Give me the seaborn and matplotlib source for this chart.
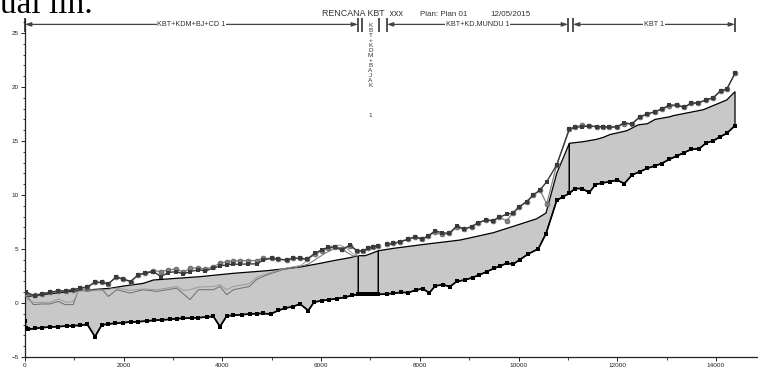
import numpy as np
import pandas as pd
import seaborn as sns
import matplotlib.pyplot as plt
from matplotlib.ticker import MultipleLocator

# ---- data (station m, elevation m) ----
# reach 1 : KBT+KDM+BJ+CD
bed1_x = [0, 15, 68, 203, 338, 507, 675, 844, 979, 1114, 1263, 1418, 1554, 1689, 1824, 1993, 2141, 2297,
          2466, 2614, 2769, 2938, 3073, 3208, 3377, 3512, 3681, 3816, 3951, 4087, 4222, 4390, 4559, 4694,
          4829, 4978, 5133, 5268, 5424, 5573, 5741, 5856, 6011, 6167, 6316, 6484, 6620, 6754]
bed1_y = [-1.7, -2.3, -2.44, -2.35, -2.29, -2.22, -2.19, -2.13, -2.1, -2.07, -1.98, -3.12, -2.04, -1.94,
          -1.88, -1.82, -1.76, -1.73, -1.67, -1.6, -1.57, -1.51, -1.45, -1.42, -1.39, -1.36, -1.3, -1.23,
          -2.19, -1.2, -1.14, -1.08, -1.02, -0.98, -0.97, -1.02, -0.69, -0.48, -0.34, -0.09, -0.7, 0.08,
          0.21, 0.31, 0.4, 0.53, 0.7, 0.8]
ws1_x = [0, 1047, 1722, 1992, 2398, 2600, 2870, 3546, 4221, 4897, 5572, 5978, 6248, 6586, 6754]
ws1_y = [0.59, 1.14, 1.36, 1.57, 1.82, 2.13, 2.22, 2.44, 2.75, 2.99, 3.33, 3.67, 3.92, 4.2, 4.38]

# reach 2 : KBT+KDM+BAJAK
bed2_x = [6754, 6822, 6890, 6957, 7025, 7092, 7160]
bed2_y = [0.8, 0.8, 0.8, 0.8, 0.8, 0.8, 0.8]
ws2_x = [6754, 6890, 6991, 7160]
ws2_y = [4.38, 4.38, 4.54, 4.84]

# reach 3 : KBT+KD.MUNDU
bed3_x = [7160, 7329, 7464, 7613, 7767, 7923, 8059, 8193, 8308, 8464, 8612, 8748, 8916, 9071, 9206,
          9355, 9503, 9625, 9761, 9896, 10030, 10199, 10402, 10557, 10774, 10908, 11030]
bed3_y = [0.8, 0.83, 0.9, 0.98, 0.96, 1.2, 1.33, 0.93, 1.57, 1.7, 1.51, 2.0, 2.13, 2.36, 2.6, 2.9, 3.2,
          3.42, 3.67, 3.61, 4.02, 4.54, 5.02, 6.42, 9.5, 9.85, 10.15]
ws3_x = [7160, 7464, 8140, 8815, 9490, 10030, 10368, 10557, 10774, 11030]
ws3_y = [4.84, 5.06, 5.46, 5.83, 6.51, 7.3, 7.8, 8.33, 12.0, 14.79]

# reach 4 : KBT
bed4_x = [11030, 11145, 11280, 11435, 11560, 11700, 11845, 12000, 12144, 12300, 12455, 12605, 12760,
          12900, 13053, 13205, 13354, 13500, 13660, 13805, 13948, 14090, 14219, 14387]
bed4_y = [10.15, 10.6, 10.6, 10.24, 10.97, 11.12, 11.23, 11.39, 11.05, 11.85, 12.16, 12.46, 12.7,
          12.91, 13.3, 13.61, 13.92, 14.23, 14.29, 14.82, 15.03, 15.4, 15.71, 16.42]
ws4_x = [11030, 11313, 11584, 11719, 11854, 12192, 12428, 12611, 12766, 13070, 13137, 13745, 14219, 14387]
ws4_y = [14.79, 14.94, 15.16, 15.34, 15.6, 15.95, 16.5, 16.6, 17.0, 17.25, 17.35, 17.9, 18.8, 19.57]

# bank lines (left / right), upstream part and downstream part
bank1_x = [0, 20, 203, 338, 507, 675, 824, 979, 1114, 1263, 1418, 1554, 1689, 1844, 1992, 2141, 2297,
           2432, 2600, 2756, 2904, 3060, 3208, 3343, 3512, 3647, 3816, 3951, 4087, 4222, 4357, 4525,
           4694, 4829, 4998, 5133, 5302, 5437, 5573, 5708, 5876, 6011, 6147, 6282, 6417, 6586, 6721,
           6856, 6957, 7059, 7160]
lob1_y = [0.9, 1.0, 0.67, 0.86, 0.98, 1.13, 1.13, 1.23, 1.38, 1.47, 1.93, 1.9, 1.78, 2.39, 2.21, 1.99,
          2.61, 2.76, 2.91, 2.45, 2.82, 2.91, 2.7, 2.91, 3.07, 2.98, 3.22, 3.44, 3.53, 3.59, 3.59, 3.62,
          3.62, 3.99, 4.14, 4.05, 3.99, 4.14, 4.14, 4.05, 4.6, 4.91, 5.15, 5.15, 4.91, 5.37, 4.85, 4.8,
          5.1, 5.22, 5.3]
rob1_y = [0.95, 0.85, 0.7, 0.86, 0.98, 1.13, 1.13, 1.23, 1.38, 1.47, 1.93, 1.9, 1.78, 2.39, 2.21, 1.99,
          2.61, 2.8, 3.0, 2.91, 3.07, 3.16, 2.85, 3.22, 3.25, 3.13, 3.37, 3.68, 3.83, 3.9, 3.93, 3.93,
          3.93, 4.14, 4.14, 4.05, 3.99, 4.14, 4.14, 4.05, 4.5, 4.85, 5.1, 5.2, 5.0, 5.3, 4.85, 4.8,
          5.1, 5.22, 5.3]
bank2_x = [7329, 7464, 7599, 7768, 7903, 8038, 8173, 8308, 8443, 8598, 8748, 8896, 9051, 9186, 9341,
           9476, 9611, 9761, 9882, 10017, 10165, 10300, 10436, 10571, 10774, 11030, 11145, 11280, 11435,
           11584, 11706, 11840, 12002, 12144, 12293, 12462, 12611, 12766, 12901, 13056, 13205, 13354,
           13495, 13644, 13799, 13948, 14097, 14219, 14387]
lob2_y = [5.43, 5.52, 5.68, 5.9, 6.14, 5.9, 6.2, 6.7, 6.51, 6.45, 7.13, 6.85, 7.07, 7.44, 7.69, 7.62,
          7.93, 8.24, 8.3, 8.92, 9.38, 10.0, 10.46, 11.23, 12.78, 16.11, 16.26, 16.33, 16.39, 16.33,
          16.33, 16.26, 16.33, 16.7, 16.57, 17.25, 17.5, 17.72, 17.96, 18.33, 18.33, 18.12, 18.49,
          18.55, 18.8, 19.01, 19.66, 19.79, 21.27]
rob2_y = [5.43, 5.52, 5.68, 5.9, 6.14, 5.95, 6.2, 6.55, 6.35, 6.45, 7.0, 6.85, 7.07, 7.44, 7.69, 7.62,
          7.93, 7.62, 8.3, 8.92, 9.38, 10.0, 10.46, 9.17, 12.78, 16.11, 16.3, 16.45, 16.39, 16.33,
          16.33, 16.26, 16.33, 16.6, 16.57, 17.25, 17.5, 17.72, 17.96, 18.2, 18.33, 18.12, 18.49,
          18.5, 18.8, 19.01, 19.66, 19.79, 21.27]

# thin grey lines inside reach 1
thin_a_x = [0, 169, 338, 507, 675, 811, 979, 1081, 1263, 1554, 1689, 1858, 2128, 2398, 2668, 3073,
            3343, 3512, 3816, 3951, 4087, 4222, 4545, 4700, 4900, 5100, 5234, 5500, 5741, 5910, 6079,
            6248, 6383, 6518, 6653, 6754]
thin_a_y = [0.92, -0.15, -0.09, -0.09, 0.15, -0.15, -0.15, 1.23, 1.07, 1.29, 0.61, 1.23, 0.92, 1.23,
            1.07, 1.38, 0.31, 1.23, 1.23, 1.53, 0.77, 1.23, 1.53, 2.2, 2.6, 2.9, 3.1, 3.3, 3.6, 4.1,
            4.6, 5.0, 5.15, 4.7, 4.35, 4.38]
thin_b_x = [0, 169, 507, 675, 844, 979, 1081, 1263, 1554, 1858, 2128, 2398, 2668, 3073, 3208, 3343,
            3512, 3816, 3951, 4087, 4222, 4545, 4700, 4900, 5100, 5300, 5600, 5842, 6012, 6214, 6383,
            6518, 6653, 6754]
thin_b_y = [0.46, 0.06, 0.06, 0.37, 0.06, 0.15, 1.07, 1.23, 1.17, 1.38, 1.17, 1.29, 1.23, 1.53, 1.17,
            1.23, 1.47, 1.53, 1.69, 1.23, 1.53, 1.78, 2.4, 2.7, 3.0, 3.25, 3.5, 4.44, 4.97, 5.28, 5.37,
            5.06, 4.54, 4.4]

# reach name bar on top
span_names = ["KBT+KDM+BJ+CD 1", "KBT+KDM+BAJAK 1", "KBT+KD.MUNDU 1", "KBT 1"]
span_start = [0, 6829, 7335, 11104]
span_end = [6748, 7173, 11003, 14387]


sns.set_style("ticks")
plt.rcParams['font.family'] = ['Liberation Sans', 'DejaVu Sans']

fig = plt.figure(figsize=(7.58, 3.67), dpi=100)
ax = fig.add_axes([25 / 758, 10 / 367, 733 / 758, 338 / 367])

# wetted area of each reach
reaches = [(bed1_x, bed1_y, ws1_x, ws1_y), (bed2_x, bed2_y, ws2_x, ws2_y),
           (bed3_x, bed3_y, ws3_x, ws3_y), (bed4_x, bed4_y, ws4_x, ws4_y)]
for bx, by, wx, wy in reaches:
    ax.fill(np.r_[wx, bx[::-1]], np.r_[wy, by[::-1]], facecolor="#c8c8c8",
            edgecolor="black", lw=0.9, zorder=1)

sns.lineplot(x=thin_a_x, y=thin_a_y, ax=ax, color="#6e6e6e", lw=0.7, sort=False, estimator=None, zorder=2)
sns.lineplot(x=thin_b_x, y=thin_b_y, ax=ax, color="#9a9a9a", lw=0.7, sort=False, estimator=None, zorder=2)

bed_x = bed1_x + bed2_x + bed3_x + bed4_x
bed_y = bed1_y + bed2_y + bed3_y + bed4_y
sns.lineplot(x=bed_x, y=bed_y, ax=ax, color="black", lw=1.2, marker="s", markersize=3,
             markeredgewidth=0, sort=False, estimator=None, zorder=4)

for bx, yy in [(bank1_x, rob1_y), (bank2_x, rob2_y)]:
    sns.lineplot(x=bx, y=yy, ax=ax, color="#808080", lw=0.9, marker="o", markersize=3.5,
                 markeredgecolor="#5a5a5a", markeredgewidth=0.5, sort=False, estimator=None, zorder=3)
for bx, yy in [(bank1_x, lob1_y), (bank2_x, lob2_y)]:
    sns.lineplot(x=bx, y=yy, ax=ax, color="#3a3a3a", lw=1.0, marker="s", markersize=3.3,
                 markeredgewidth=0, sort=False, estimator=None, zorder=3)

# reach labels along the top
bar_y = 25.8
for name, s, e in zip(span_names, span_start, span_end):
    ax.vlines([s, e], 25.1, 26.4, color="#222222", lw=1.1, clip_on=False)
    mid = (s + e) / 2
    if e - s > 1000:
        ax.annotate("", xy=(s, bar_y), xytext=(e, bar_y),
                    arrowprops=dict(arrowstyle="<|-|>,head_length=0.35,head_width=0.12",
                                    color="#444444", lw=0.9, shrinkA=0, shrinkB=0))
        ax.text(mid, bar_y, name, fontsize=5.2, color="#333333", ha="center", va="center",
                bbox=dict(facecolor="white", edgecolor="none", pad=0.6))
    else:
        # narrow reach: letters stacked downwards
        word, num = name.rsplit(" ", 1)
        for i, ch in enumerate(word):
            ax.annotate(ch, xy=(mid, 25.68), xytext=(0, -i * 5.0 * 0.72), textcoords="offset points",
                        fontsize=4.6, color="#333333", ha="center", va="center")
        ax.annotate(num, xy=(mid, 25.68), xytext=(0, -90 * 0.72), textcoords="offset points",
                    fontsize=4.6, color="#333333", ha="center", va="center")

ax.set_xlim(0, 14853)
ax.set_ylim(-5, 26.3)
ax.set_xticks(range(0, 14001, 2000))
ax.xaxis.set_minor_locator(MultipleLocator(1000))
ax.yaxis.set_major_locator(MultipleLocator(5))
ax.yaxis.set_minor_locator(MultipleLocator(1))
ax.tick_params(which="major", length=3, width=0.7, labelsize=4.6, colors="#222222", pad=1.5)
ax.tick_params(which="minor", length=1.8, width=0.6, colors="#222222")
ax.set_xlabel("")
ax.set_ylabel("")
sns.despine(ax=ax)
for sp in ["left", "bottom"]:
    ax.spines[sp].set_linewidth(0.9)
    ax.spines[sp].set_color("#222222")

fig.text(321.7 / 758, 1 - 14 / 367, "RENCANA KBT  xxx", fontsize=6.4, color="#333333", va="center")
fig.text(420 / 758, 1 - 14 / 367, "Plan: Plan 01", fontsize=5.8, color="#333333", va="center")
fig.text(490 / 758, 1 - 14 / 367, "12/05/2015", fontsize=5.8, color="#333333", va="center")
fig.text(0.5 / 758, 1 - 13 / 367, "ual lin.", fontsize=24, family="Liberation Serif",
         color="black", va="baseline")

fig.savefig("out.png", dpi=100)
